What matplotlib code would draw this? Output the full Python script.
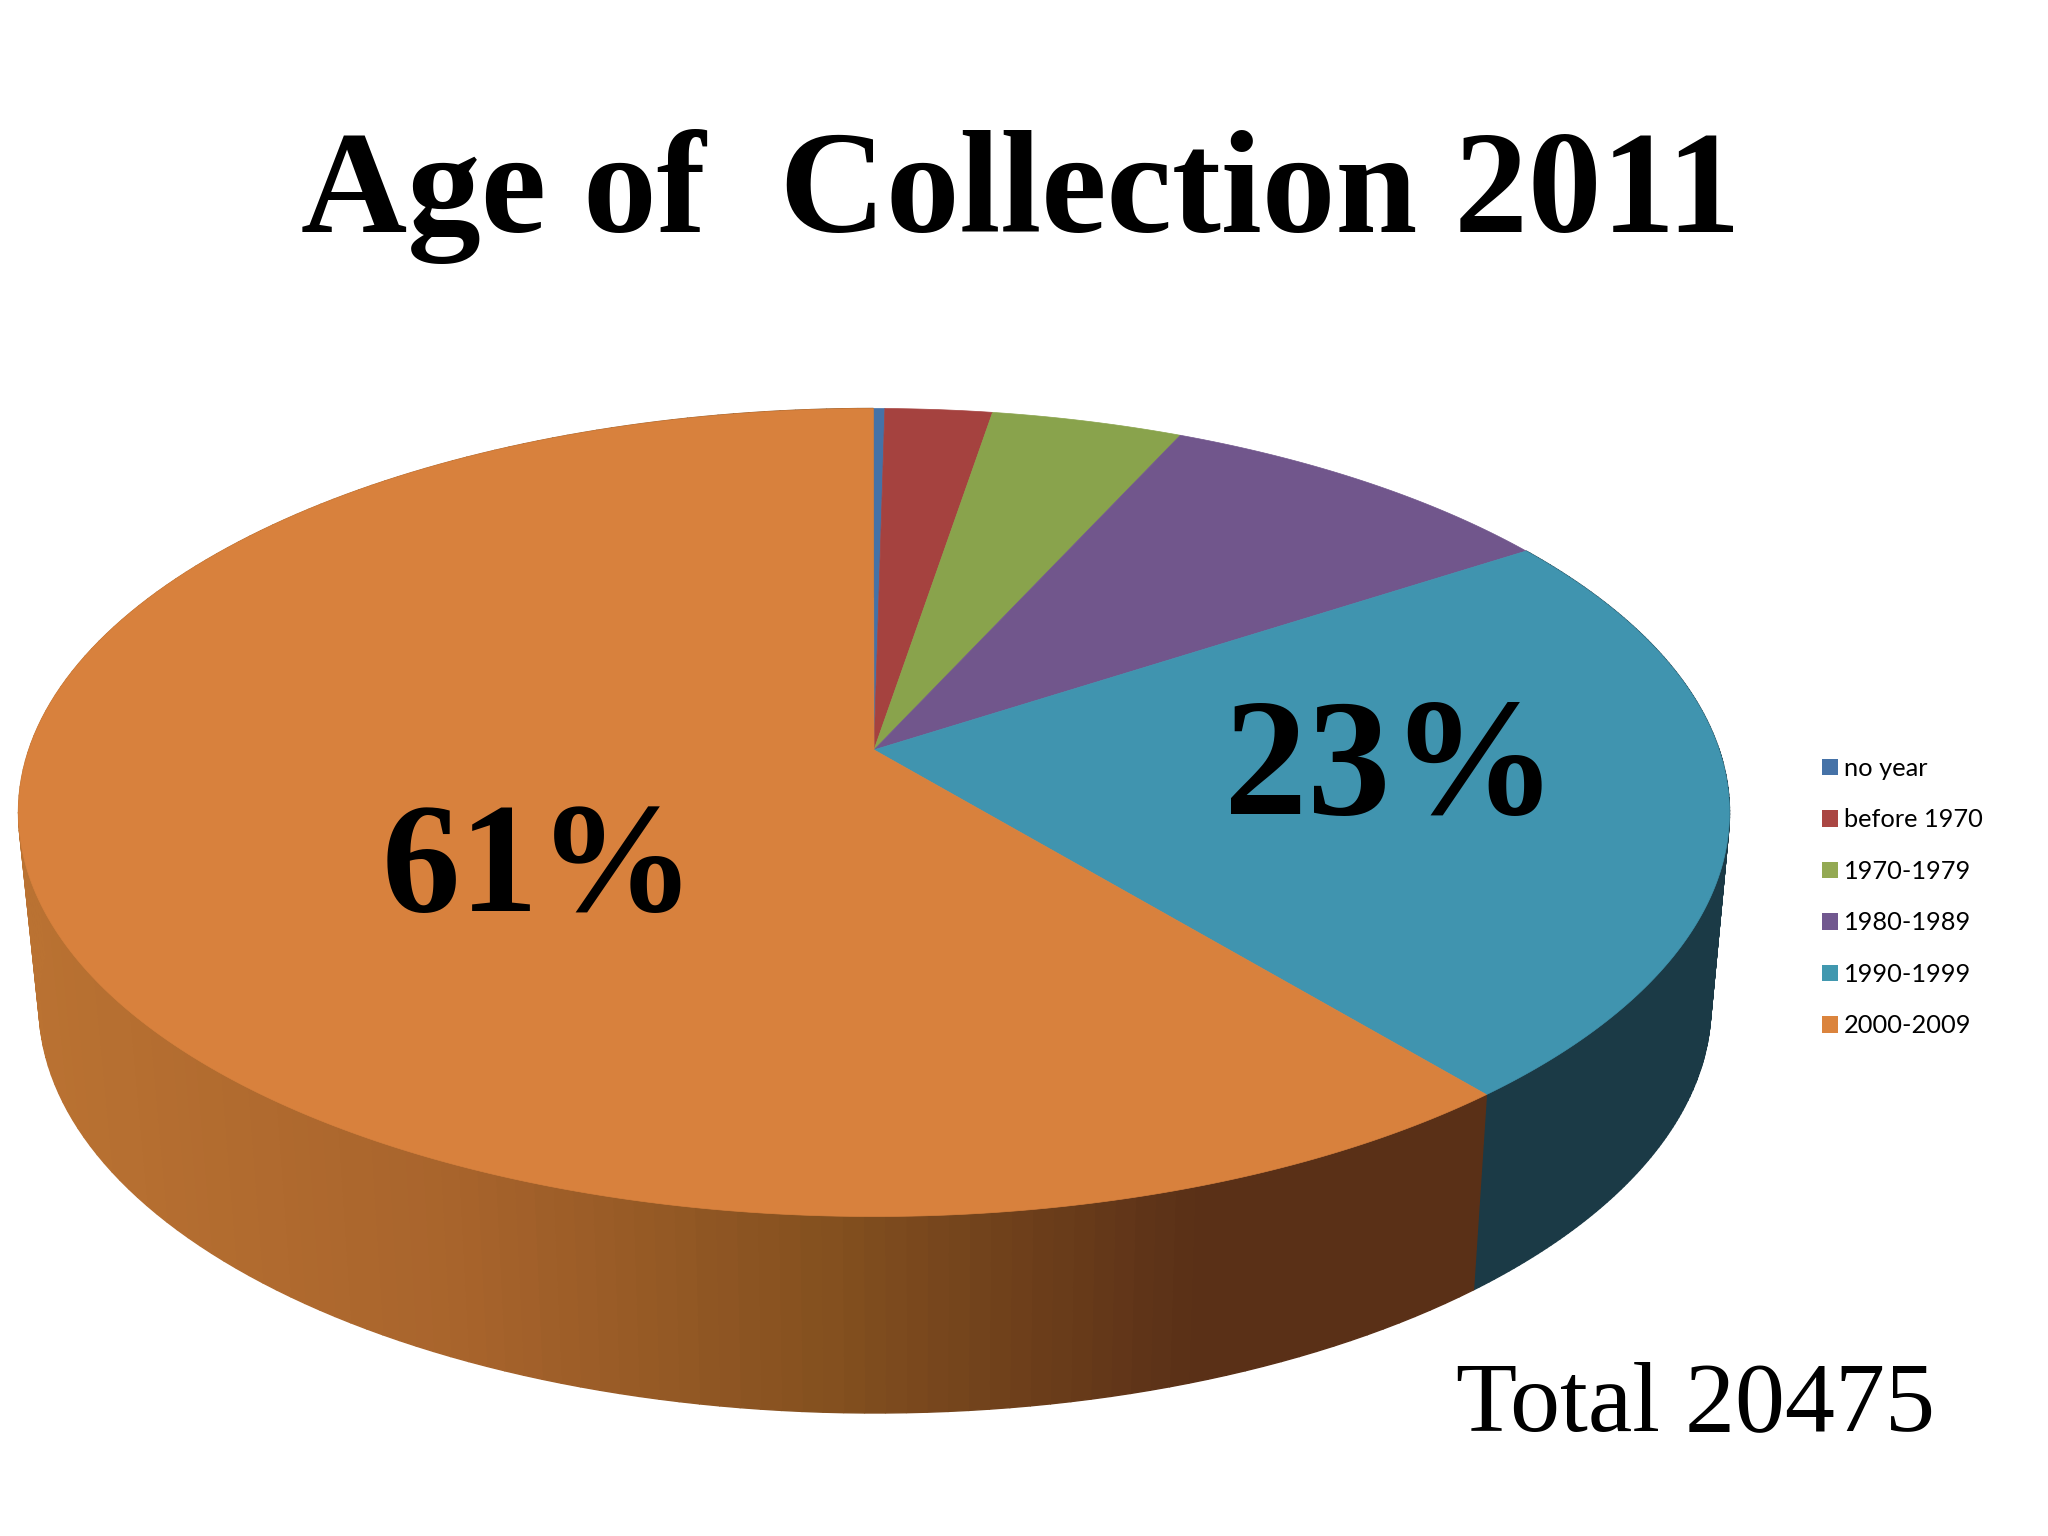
import numpy as np
import matplotlib
matplotlib.use("Agg")
import matplotlib.pyplot as plt
from matplotlib.colors import LinearSegmentedColormap
from matplotlib.patches import Patch

labels = ['no year', 'before 1970', '1970-1979', '1980-1989', '1990-1999', '2000-2009']
shares = [0.25, 2.35, 4.2, 9.0, 23.2, 61.0]
colors = ['#4572A7', '#A5423F', '#89A34C', '#71568C', '#4094AF', '#D8813D']
legend_colors = ['#4572A7', '#AA4643', '#93A953', '#71588F', '#4198AF', '#DB843D']
teal_side = '#1B3A46'
orange_side = LinearSegmentedColormap.from_list(
    'side', [(0.0, '#BA7232'), (0.3, '#A8642C'), (0.55, '#84501F'), (0.8, '#5A3017'), (1.0, '#5A3017')])

# ellipses for top and bottom of the disc, in pixels of the 2048x1536 picture
top = (874, 812.5, 855.5, 404)
low = (875, 1005, 836, 408)
k = 0.155   # centre of the pie sits above the middle of the ellipse (perspective)
start_deg = -0.05


def on_rim(deg, ell):
    # deg is clockwise from 12 o'clock on the real disc
    a = np.radians(deg)
    x, y = np.sin(a), np.cos(a)
    d = 1 + k * y
    xp = x * np.sqrt(1 - k**2) / d
    yp = (y + k) / d
    return ell[0] + ell[2] * xp, ell[1] - ell[3] * yp


fig = plt.figure(figsize=(20.48, 15.36), dpi=100)
ax = fig.add_axes([0, 0, 1, 1])
ax.set_xlim(0, 2048)
ax.set_ylim(1536, 0)
ax.axis('off')

edges = start_deg + np.cumsum([0] + shares) * 3.6

# side wall
for i, name in enumerate(labels):
    if name not in ('1990-1999', '2000-2009'):
        continue
    steps = np.linspace(edges[i], edges[i + 1], 181)
    for d0, d1 in zip(steps[:-1], steps[1:]):
        tx0, ty0 = on_rim(d0, top)
        tx1, ty1 = on_rim(d1, top)
        lx0, ly0 = on_rim(d0, low)
        lx1, ly1 = on_rim(d1, low)
        if name == '1990-1999':
            c = teal_side
        else:
            c = orange_side(np.clip((0.5 * (lx0 + lx1) - 30) / 1450, 0, 1))
        ax.fill([tx0, tx1, lx1, lx0], [ty0, ty1, ly1, ly0], color=c, lw=1)

# top face
centre = (top[0], top[1] - k * top[3])
for i in range(len(shares)):
    steps = np.linspace(edges[i], edges[i + 1], max(3, int(shares[i] * 8)))
    xs, ys = on_rim(steps, top)
    ax.fill(np.r_[centre[0], xs], np.r_[centre[1], ys], color=colors[i], lw=0.5, zorder=3)

ax.text(1021, 232, 'Age of  Collection 2011', family='Liberation Serif', weight='bold',
        fontsize=106, ha='center', va='baseline', color='black', zorder=5)
ax.text(539, 911, '61%', family='Liberation Serif', weight='bold',
        fontsize=113, ha='center', va='baseline', color='black', zorder=5)
ax.text(1391, 814, '23%', family='Liberation Serif', weight='bold',
        fontsize=120, ha='center', va='baseline', color='black', zorder=5)
ax.text(1695, 1430, 'Total 20475', family='Liberation Serif',
        fontsize=72, ha='center', va='baseline', color='black', zorder=5)

handles = [Patch(facecolor=c, edgecolor='none') for c in legend_colors]
fig.legend(handles, labels, loc='upper left', bbox_to_anchor=(1822 / 2048, 1 - 757 / 1536),
           frameon=False, prop={'family': 'Lato', 'size': 18.3}, labelspacing=1.12,
           handlelength=0.63, handleheight=0.63, handletextpad=0.24,
           borderpad=0, borderaxespad=0)

fig.savefig('out.png', dpi=100, facecolor='white')
